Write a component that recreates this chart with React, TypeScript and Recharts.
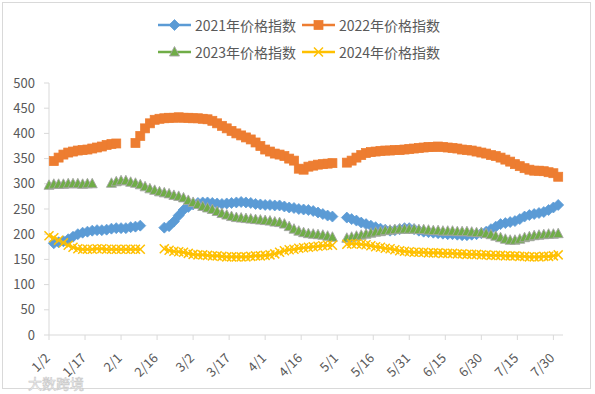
import React from 'react';
import { LineChart, Line, XAxis, YAxis } from 'recharts';

// day offsets from 1/2 (every 2 days)
const days: number[] = [
  0, 2, 4, 6, 8, 10, 12, 14, 16, 18,
  20, 22, 24, 26, 28, 30, 32, 34, 36, 38,
  40, 42, 44, 46, 48, 50, 52, 54, 56, 58,
  60, 62, 64, 66, 68, 70, 72, 74, 76, 78,
  80, 82, 84, 86, 88, 90, 92, 94, 96, 98,
  100, 102, 104, 106, 108, 110, 112, 114, 116, 118,
  120, 122, 124, 126, 128, 130, 132, 134, 136, 138,
  140, 142, 144, 146, 148, 150, 152, 154, 156, 158,
  160, 162, 164, 166, 168, 170, 172, 174, 176, 178,
  180, 182, 184, 186, 188, 190, 192, 194, 196, 198,
  200, 202, 204, 206, 208, 210, 212,
];

const xTickDays: number[] = [0, 15, 30, 45, 60, 75, 90, 105, 120, 135, 150, 165, 180, 195, 210];
const xTickLabels: string[] = ['1/2', '1/17', '2/1', '2/16', '3/2', '3/17', '4/1', '4/16', '5/1', '5/16', '5/31', '6/15', '6/30', '7/15', '7/30'];
const yTicks: number[] = [0, 50, 100, 150, 200, 250, 300, 350, 400, 450, 500];

const seriesNames: string[] = ['2021年价格指数', '2022年价格指数', '2023年价格指数', '2024年价格指数'];

const v2021: (number | null)[] = [
  null, 182, 184, 186, 190, 195, 200, 203, 205, 207,
  208, 208, 209, 211, 212, 212, 212, 214, 215, 217,
  null, null, null, null, 213, 216, 225, 237, 248, 254,
  259, 262, 263, 263, 262, 261, 260, 261, 262, 263,
  264, 263, 262, 260, 259, 258, 258, 257, 257, 255,
  253, 252, 250, 249, 248, 246, 243, 240, 237, 235,
  null, null, 233, 230, 227, 223, 220, 217, 214, 211,
  209, 207, 208, 210, 212, 212, 210, 207, 205, 204,
  203, 202, 201, 200, 200, 199, 198, 198, 199, 200,
  202, 205, 210, 215, 220, 222, 224, 226, 230, 235,
  238, 240, 242, 244, 248, 253, 258,
];

const v2022: (number | null)[] = [
  null, 345, 352, 358, 362, 364, 366, 367, 368, 370,
  372, 374, 377, 379, 380, null, null, null, 381, 395,
  410, 420, 427, 429, 430, 431, 431, 432, 431, 431,
  430, 430, 429, 428, 425, 420, 415, 410, 405, 400,
  396, 392, 388, 382, 375, 368, 364, 360, 358, 355,
  350, 346, 330, 328, 334, 336, 338, 339, 340, 341,
  null, null, 342, 346, 352, 357, 361, 363, 364, 365,
  366, 366, 367, 367, 368, 369, 370, 371, 372, 373,
  373, 374, 373, 372, 371, 370, 368, 367, 366, 364,
  362, 360, 357, 355, 352, 348, 344, 339, 335, 331,
  328, 326, 326, 325, 323, 321, 314,
];

const v2023: (number | null)[] = [
  297, 299, 299, 299, 300, 300, 300, 299, 300, 300,
  null, null, null, 301, 304, 306, 306, 303, 301, 298,
  294, 290, 287, 284, 282, 280, 277, 275, 272, 267,
  263, 259, 255, 252, 249, 245, 241, 238, 235, 233,
  232, 231, 230, 229, 228, 227, 226, 224, 223, 220,
  215, 210, 206, 203, 201, 200, 199, 198, 196, 194,
  null, null, 192, 194, 196, 198, 200, 202, 204, 205,
  207, 208, 209, 210, 210, 210, 210, 209, 209, 208,
  207, 207, 206, 206, 206, 205, 205, 205, 204, 203,
  203, 201, 199, 196, 193, 190, 188, 188, 190, 193,
  195, 197, 198, 199, 200, 200, 201,
];

const v2024: (number | null)[] = [
  197, 193, 188, 183, 178, 174, 171, 170, 170, 170,
  171, 171, 170, 170, 170, 170, 170, 170, 170, 170,
  null, null, null, null, 171, 168, 166, 165, 164, 162,
  160, 159, 159, 158, 157, 157, 156, 155, 155, 155,
  155, 155, 156, 157, 157, 158, 159, 161, 164, 167,
  169, 170, 172, 173, 174, 175, 176, 177, 178, 178,
  null, null, 180, 181, 181, 180, 179, 177, 175, 174,
  172, 171, 169, 167, 166, 165, 164, 164, 164, 163,
  163, 163, 162, 162, 162, 161, 161, 160, 160, 160,
  159, 159, 158, 158, 158, 157, 157, 157, 156, 156,
  155, 155, 155, 156, 156, 157, 159,
];

const data = days.map((d, i) => ({
  d,
  s2021: v2021[i],
  s2022: v2022[i],
  s2023: v2023[i],
  s2024: v2024[i],
}));

const C2021 = '#5B9BD5';
const C2022 = '#ED7D31';
const C2023 = '#70AD47';
const C2024 = '#FFC000';
const TEXT = '#595959';
const AXIS = '#D9D9D9';
const FONT = '"Noto Sans CJK SC", "Noto Sans", sans-serif';

type Shape = 'diamond' | 'square' | 'triangle' | 'x';

function Marker({ shape, cx, cy }: { shape: Shape; cx: number; cy: number }) {
  if (shape === 'diamond') {
    const r = 5.5;
    return <polygon points={`${cx},${cy - r} ${cx + r},${cy} ${cx},${cy + r} ${cx - r},${cy}`} fill={C2021} stroke={C2021} strokeWidth={0.75} />;
  }
  if (shape === 'square') {
    return <rect x={cx - 4.5} y={cy - 4.5} width={9} height={9} fill={C2022} stroke={C2022} strokeWidth={0.75} />;
  }
  if (shape === 'triangle') {
    return <polygon points={`${cx},${cy - 5.5} ${cx + 5},${cy + 4} ${cx - 5},${cy + 4}`} fill={C2023} stroke="#A5A5A5" strokeWidth={0.9} />;
  }
  const r = 4.5;
  return (
    <g stroke={C2024} strokeWidth={1.5}>
      <line x1={cx - r} y1={cy - r} x2={cx + r} y2={cy + r} />
      <line x1={cx - r} y1={cy + r} x2={cx + r} y2={cy - r} />
    </g>
  );
}

const makeDot = (shape: Shape) => (props: any) => {
  const { cx, cy, index, value } = props;
  const key = `${shape}-${index}`;
  if (cx == null || cy == null || value == null || (Array.isArray(value) && value[1] == null)) {
    return <g key={key} />;
  }
  return (
    <g key={key}>
      <Marker shape={shape} cx={cx} cy={cy} />
    </g>
  );
};

const XTick = (props: any) => {
  const { x, payload } = props;
  const i = xTickDays.indexOf(payload.value);
  const label = i >= 0 ? xTickLabels[i] : '';
  const x0 = x - 2;
  const y0 = 355;
  return (
    <text
      x={x0}
      y={y0}
      transform={`rotate(-45, ${x0}, ${y0})`}
      textAnchor="end"
      dominantBaseline="central"
      fontSize={13}
      fill={TEXT}
      fontFamily={FONT}
    >
      {label}
    </text>
  );
};

const legendItems: { name: string; color: string; shape: Shape; x: number; y: number }[] = [
  { name: seriesNames[0], color: C2021, shape: 'diamond', x: 158, y: 25 },
  { name: seriesNames[1], color: C2022, shape: 'square', x: 302, y: 25 },
  { name: seriesNames[2], color: C2023, shape: 'triangle', x: 158, y: 52 },
  { name: seriesNames[3], color: C2024, shape: 'x', x: 302, y: 52 },
];

export default function App() {
  return (
    <div style={{ position: 'absolute', left: 0, top: 0, width: 595, height: 394, background: '#fff' }}>
      <LineChart
        width={595}
        height={394}
        data={data}
        margin={{ top: 83, right: 32, bottom: 0, left: 0 }}
      >
        <XAxis
          dataKey="d"
          type="number"
          domain={[0, 214]}
          ticks={xTickDays}
          interval={0}
          height={59}
          tick={<XTick />}
          axisLine={{ stroke: AXIS }}
          tickLine={{ stroke: AXIS }}
          tickSize={5}
        />
        <YAxis
          domain={[0, 500]}
          ticks={yTicks}
          width={49}
          tickSize={5}
          tickMargin={9}
          axisLine={{ stroke: AXIS }}
          tickLine={{ stroke: AXIS }}
          tick={{ fontSize: 13, fill: TEXT, fontFamily: FONT }}
          interval={0}
        />
        <Line dataKey="s2021" name={seriesNames[0]} stroke={C2021} strokeWidth={2.25} dot={makeDot('diamond')} activeDot={false} isAnimationActive={false} />
        <Line dataKey="s2022" name={seriesNames[1]} stroke={C2022} strokeWidth={2.25} dot={makeDot('square')} activeDot={false} isAnimationActive={false} />
        <Line dataKey="s2023" name={seriesNames[2]} stroke={C2023} strokeWidth={2.25} dot={makeDot('triangle')} activeDot={false} isAnimationActive={false} />
        <Line dataKey="s2024" name={seriesNames[3]} stroke={C2024} strokeWidth={2.25} dot={makeDot('x')} activeDot={false} isAnimationActive={false} />
      </LineChart>
      <svg width={595} height={394} style={{ position: 'absolute', left: 0, top: 0, pointerEvents: 'none' }}>
        <rect x={2.5} y={2.5} width={588} height={386} fill="none" stroke={AXIS} strokeWidth={1} />
        {legendItems.map((it) => (
          <g key={it.name}>
            <line x1={it.x} y1={it.y} x2={it.x + 33} y2={it.y} stroke={it.color} strokeWidth={2.5} />
            <Marker shape={it.shape} cx={it.x + 16.5} cy={it.y} />
            <text x={it.x + 37} y={it.y} dominantBaseline="central" fontSize={14} fill={TEXT} fontFamily={FONT}>
              {it.name}
            </text>
          </g>
        ))}
        <text x={28} y={383} dominantBaseline="central" fontSize={14} fill="#ffffff" stroke="#C8C8C8" strokeWidth={0.6} fontFamily={FONT}>
          大数跨境
        </text>
      </svg>
    </div>
  );
}
